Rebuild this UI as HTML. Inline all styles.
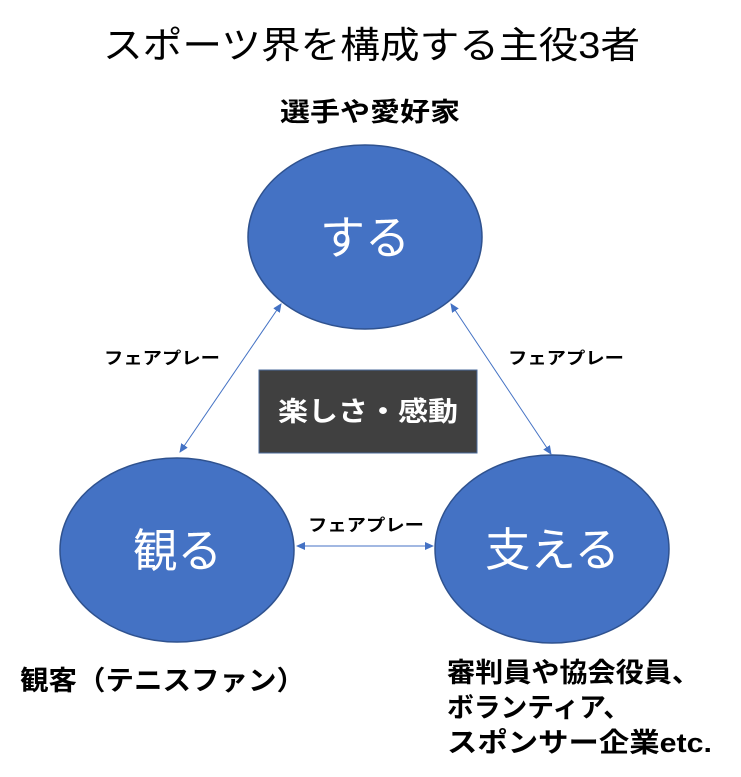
<!DOCTYPE html>
<html><head><meta charset="utf-8"><style>
body{margin:0;background:#fff;}
svg{display:block}
text{font-family:"Liberation Sans","Noto Sans CJK JP",sans-serif;}
</style></head><body>
<svg width="741" height="777" xmlns="http://www.w3.org/2000/svg">
<defs>
<marker id="a" markerWidth="10" markerHeight="10" refX="8" refY="5" orient="auto-start-reverse" markerUnits="userSpaceOnUse">
<path d="M0,1 L9,5 L0,9 z" fill="#4472C4"/></marker>
</defs>
<text x="103" y="58" font-size="37" textLength="537" lengthAdjust="spacingAndGlyphs" fill="#000">スポーツ界を構成する主役3者</text>
<text x="280" y="121" font-size="26" font-weight="bold" textLength="180" lengthAdjust="spacingAndGlyphs" fill="#000">選手や愛好家</text>
<ellipse cx="365" cy="237" rx="117" ry="92" fill="#4472C4" stroke="#2F528F" stroke-width="1.5"/>
<ellipse cx="177" cy="550" rx="117" ry="92" fill="#4472C4" stroke="#2F528F" stroke-width="1.5"/>
<ellipse cx="552" cy="549" rx="117" ry="94" fill="#4472C4" stroke="#2F528F" stroke-width="1.5"/>
<text x="320" y="254" font-size="46" textLength="90" lengthAdjust="spacingAndGlyphs" fill="#fff">する</text>
<text x="133" y="567" font-size="46" textLength="89" lengthAdjust="spacingAndGlyphs" fill="#fff">観る</text>
<text x="485" y="566" font-size="46" textLength="135" lengthAdjust="spacingAndGlyphs" fill="#fff">支える</text>
<line x1="281" y1="304" x2="180" y2="452" stroke="#4472C4" stroke-width="1" marker-start="url(#a)" marker-end="url(#a)"/>
<line x1="451" y1="304" x2="551" y2="454" stroke="#4472C4" stroke-width="1" marker-start="url(#a)" marker-end="url(#a)"/>
<line x1="297" y1="546" x2="433" y2="546" stroke="#4472C4" stroke-width="1" marker-start="url(#a)" marker-end="url(#a)"/>
<rect x="259" y="370" width="218" height="83" fill="#404040" stroke="#4A6A9A" stroke-width="1"/>
<text x="278" y="421" font-size="27" font-weight="bold" textLength="180" lengthAdjust="spacingAndGlyphs" fill="#fff">楽しさ・感動</text>
<text x="104" y="364" font-size="17" font-weight="bold" textLength="116" lengthAdjust="spacingAndGlyphs" fill="#000">フェアプレー</text>
<text x="508" y="364" font-size="17" font-weight="bold" textLength="116" lengthAdjust="spacingAndGlyphs" fill="#000">フェアプレー</text>
<text x="308" y="531" font-size="17" font-weight="bold" textLength="116" lengthAdjust="spacingAndGlyphs" fill="#000">フェアプレー</text>
<text x="20" y="690" font-size="27" font-weight="bold" textLength="285" lengthAdjust="spacingAndGlyphs" fill="#000">観客（テニスファン）</text>
<text x="447" y="682" font-size="27" font-weight="bold" textLength="253" lengthAdjust="spacingAndGlyphs" fill="#000">審判員や協会役員、</text>
<text x="447" y="717" font-size="27" font-weight="bold" textLength="183" lengthAdjust="spacingAndGlyphs" fill="#000">ボランティア、</text>
<text x="447" y="752" font-size="27" font-weight="bold" textLength="265" lengthAdjust="spacingAndGlyphs" fill="#000">スポンサー企業etc.</text>
</svg>
</body></html>
